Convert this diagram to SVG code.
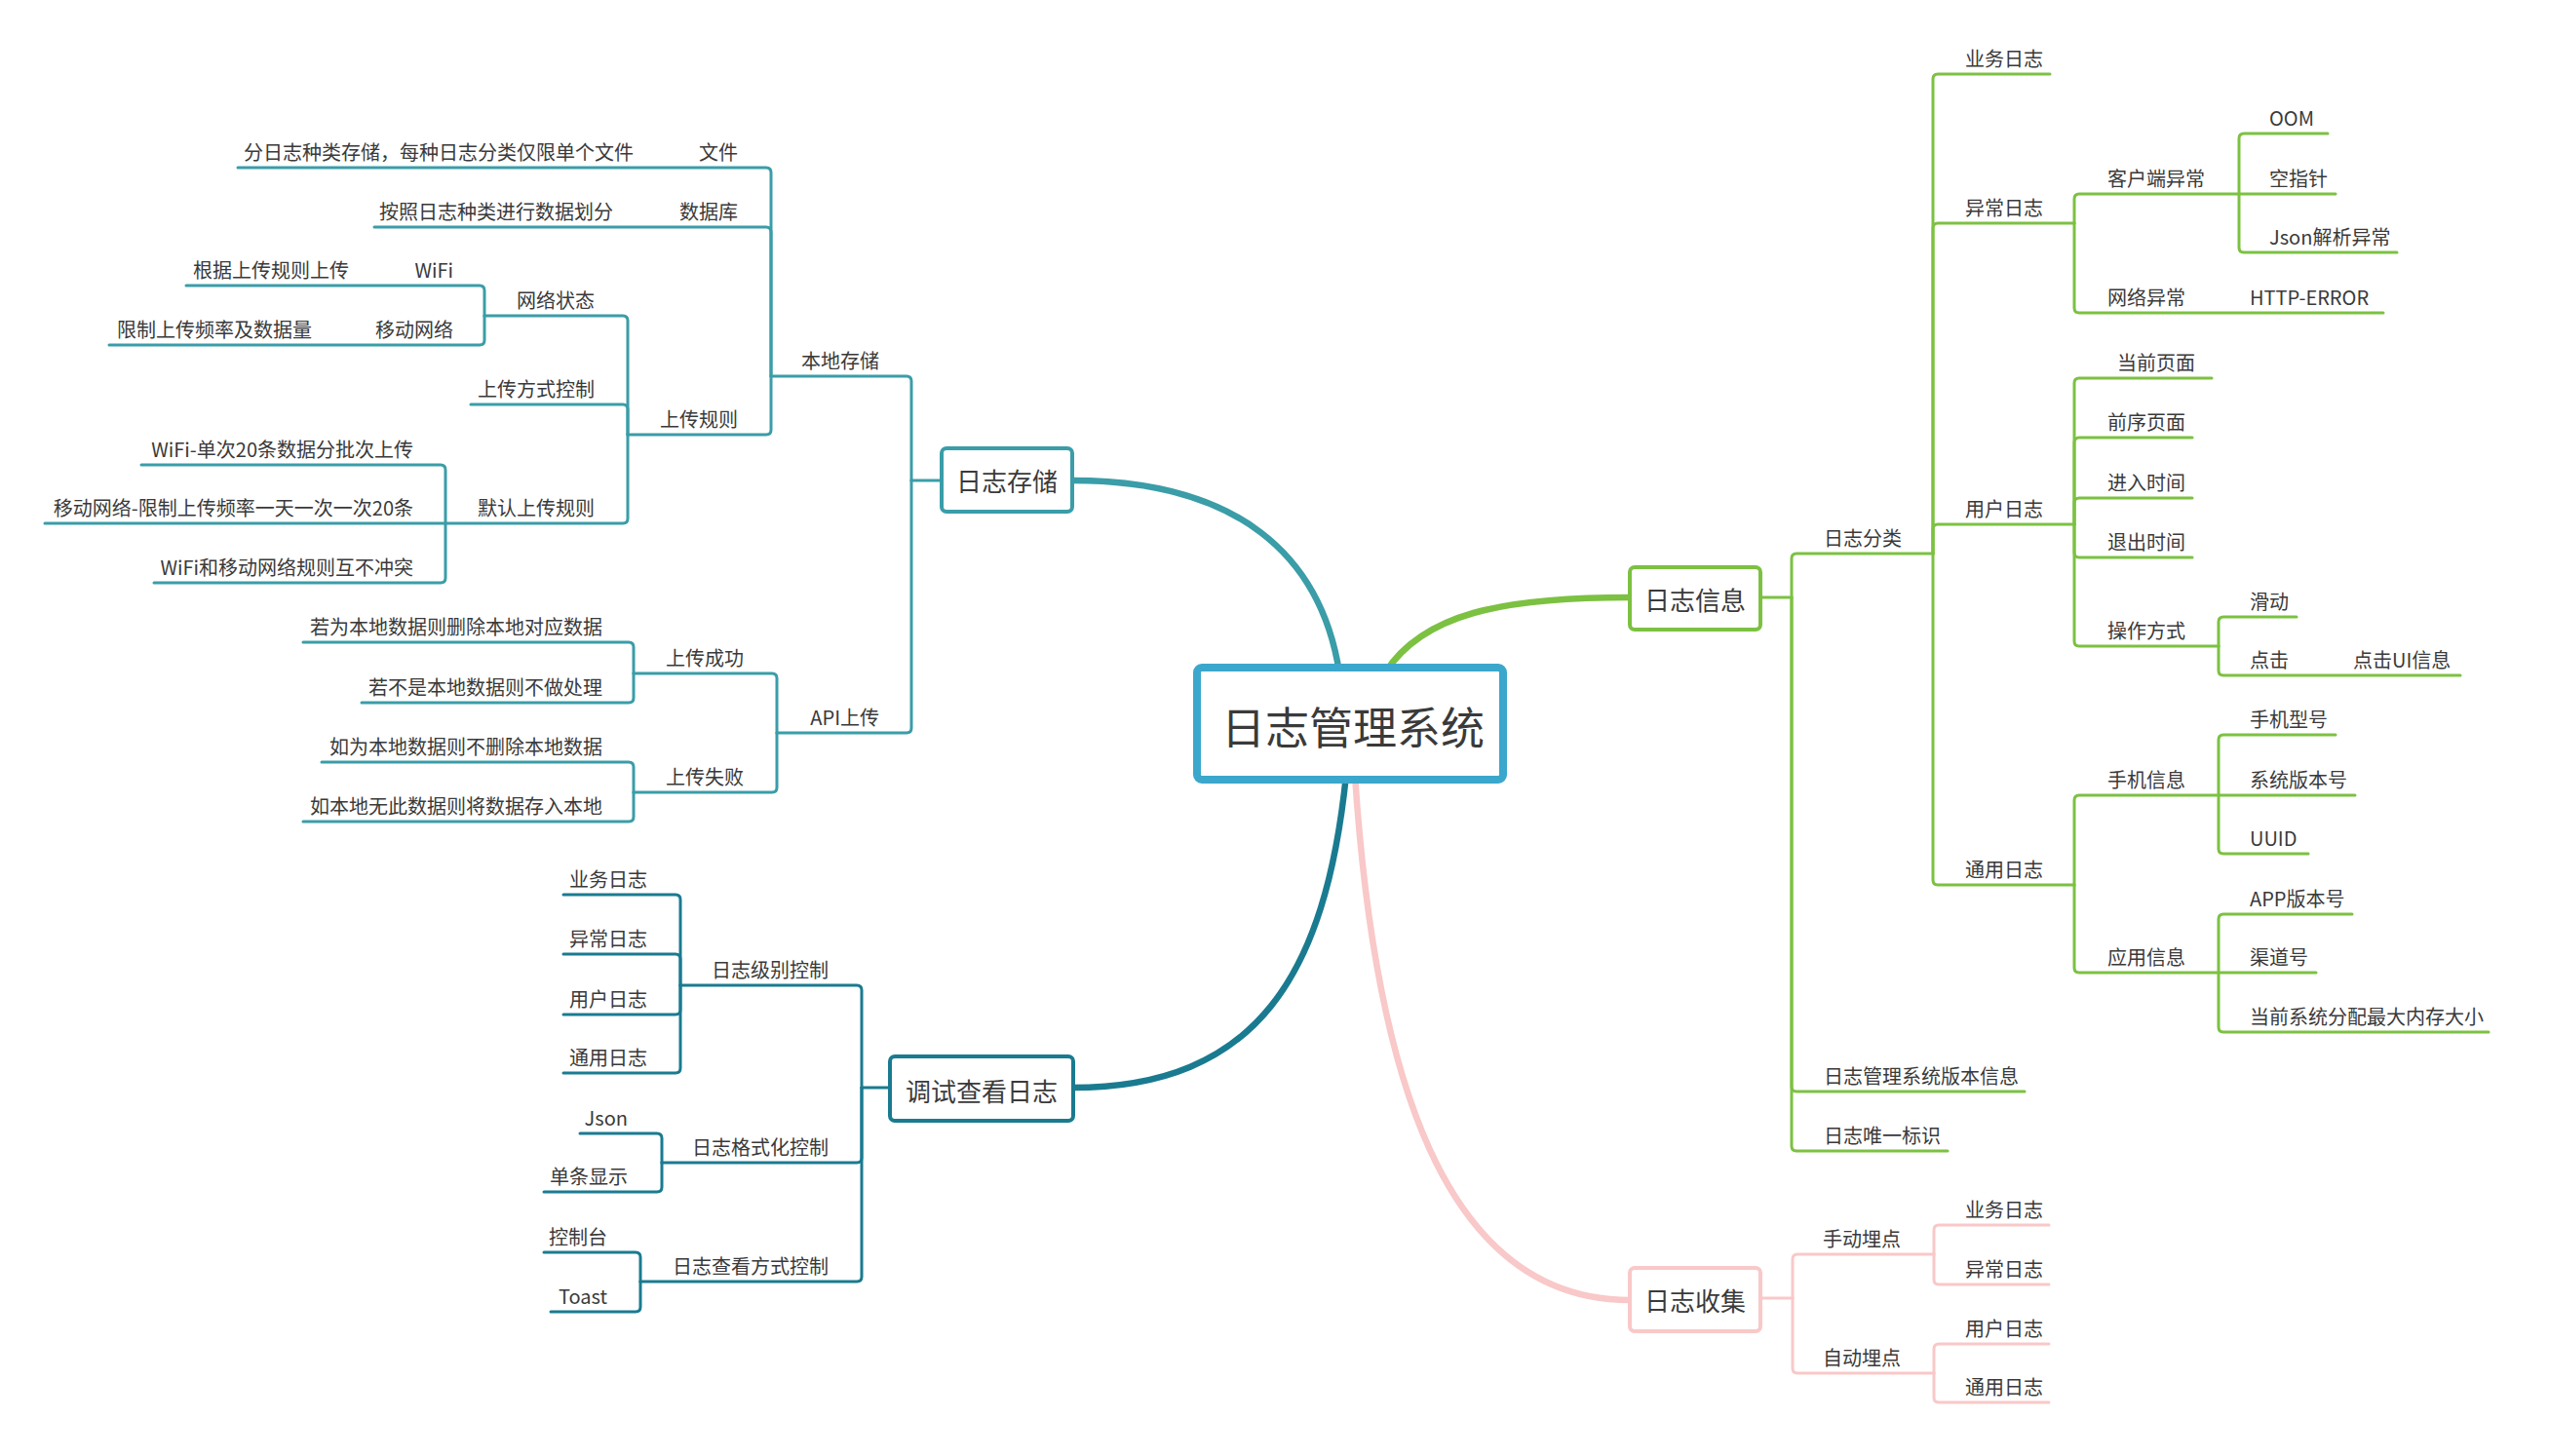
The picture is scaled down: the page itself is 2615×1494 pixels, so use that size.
<svg xmlns="http://www.w3.org/2000/svg" width="2615" height="1494" viewBox="0 0 2615 1494">
<style>
text{font-family:"Noto Sans CJK SC","Liberation Sans",sans-serif;fill:#3a3a3a}
.s{font-size:20px}
.m{font-size:26px;text-anchor:middle}
.c{font-size:45px;text-anchor:middle}
.e{text-anchor:end}
.ln path{fill:none;stroke-width:3;stroke-linecap:round;stroke-linejoin:round}
.teal path{stroke:#3a9da8}
.dteal path{stroke:#1a7b90}
.green path{stroke:#7cc142}
.pink path{stroke:#f9c8c8}
.mc path{fill:none;stroke-width:6.5}
.box{fill:#fff;stroke-width:4}
</style>
<rect width="2615" height="1494" fill="#fff"/>

<g id="connectors">
  <g id="main-curves" class="mc">
    <path d="M1374,690 C1355,570 1270,493 1100,493" stroke="#3a9da8"/>
    <path d="M1421,690 C1460,630 1540,613 1672,613" stroke="#7cc142"/>
    <path d="M1390,795 C1410,1100 1480,1334 1672,1334" stroke="#f9c8c8"/>
    <path d="M1381,795 C1360,1000 1290,1116 1100,1116" stroke="#1a7b90"/>
  </g>
  <g class="ln teal">
    <path d="M964,493 H935"/>
    <path d="M935,493 V391 Q935,386 930,386 H791"/>
    <path d="M935,493 V747 Q935,752 930,752 H797"/>
    <path d="M791,386 V177 Q791,172 786,172 H244"/>
    <path d="M791,386 V238 Q791,233 786,233 H384"/>
    <path d="M791,386 V441 Q791,446 786,446 H644"/>
    <path d="M644,446 V329 Q644,324 639,324 H497"/>
    <path d="M644,446 V420 Q644,415 639,415 H483"/>
    <path d="M644,446 V532 Q644,537 639,537 H457"/>
    <path d="M497,324 V298 Q497,293 492,293 H191"/>
    <path d="M497,324 V349 Q497,354 492,354 H112"/>
    <path d="M457,537 V482 Q457,477 452,477 H145"/>
    <path d="M457,537 H46"/>
    <path d="M457,537 V593 Q457,598 452,598 H158"/>
    <path d="M797,752 V696 Q797,691 792,691 H650"/>
    <path d="M797,752 V808 Q797,813 792,813 H650"/>
    <path d="M650,691 V664 Q650,659 645,659 H311"/>
    <path d="M650,691 V716 Q650,721 645,721 H371"/>
    <path d="M650,813 V787 Q650,782 645,782 H330"/>
    <path d="M650,813 V838 Q650,843 645,843 H311"/>
  </g>
  <g class="ln dteal">
    <path d="M911,1116 H884"/>
    <path d="M884,1116 V1016 Q884,1011 879,1011 H698"/>
    <path d="M884,1116 V1188 Q884,1193 879,1193 H679"/>
    <path d="M884,1116 V1310 Q884,1315 879,1315 H657"/>
    <path d="M698,1011 V923 Q698,918 693,918 H578"/>
    <path d="M698,1011 V984 Q698,979 693,979 H578"/>
    <path d="M698,1011 V1036 Q698,1041 693,1041 H578"/>
    <path d="M698,1011 V1096 Q698,1101 693,1101 H578"/>
    <path d="M679,1193 V1168 Q679,1163 674,1163 H595"/>
    <path d="M679,1193 V1218 Q679,1223 674,1223 H558"/>
    <path d="M657,1315 V1290 Q657,1285 652,1285 H558"/>
    <path d="M657,1315 V1341 Q657,1346 652,1346 H565"/>
  </g>
  <g class="ln green">
    <path d="M1808,613 H1838"/>
    <path d="M1838,613 V573 Q1838,568 1843,568 H1983"/>
    <path d="M1838,613 V1115 Q1838,1120 1843,1120 H2077"/>
    <path d="M1838,613 V1176 Q1838,1181 1843,1181 H1998"/>
    <path d="M1983,568 V81 Q1983,76 1988,76 H2103"/>
    <path d="M1983,568 V234 Q1983,229 1988,229 H2128"/>
    <path d="M1983,568 V543 Q1983,538 1988,538 H2128"/>
    <path d="M1983,568 V903 Q1983,908 1988,908 H2128"/>
    <path d="M2128,229 V204 Q2128,199 2133,199 H2297"/>
    <path d="M2128,229 V316 Q2128,321 2133,321 H2445"/>
    <path d="M2297,199 V142 Q2297,137 2302,137 H2388"/>
    <path d="M2297,199 H2396"/>
    <path d="M2297,199 V254 Q2297,259 2302,259 H2459"/>
    <path d="M2128,538 V393 Q2128,388 2133,388 H2269"/>
    <path d="M2128,538 V454 Q2128,449 2133,449 H2249"/>
    <path d="M2128,538 V516 Q2128,511 2133,511 H2249"/>
    <path d="M2128,538 V567 Q2128,572 2133,572 H2249"/>
    <path d="M2128,538 V658 Q2128,663 2133,663 H2276"/>
    <path d="M2276,663 V638 Q2276,633 2281,633 H2356"/>
    <path d="M2276,663 V688 Q2276,693 2281,693 H2524"/>
    <path d="M2128,908 V821 Q2128,816 2133,816 H2276"/>
    <path d="M2128,908 V993 Q2128,998 2133,998 H2276"/>
    <path d="M2276,816 V759 Q2276,754 2281,754 H2396"/>
    <path d="M2276,816 H2416"/>
    <path d="M2276,816 V871 Q2276,876 2281,876 H2368"/>
    <path d="M2276,998 V943 Q2276,938 2281,938 H2413"/>
    <path d="M2276,998 H2376"/>
    <path d="M2276,998 V1054 Q2276,1059 2281,1059 H2553"/>
  </g>
  <g class="ln pink">
    <path d="M1808,1332 H1839"/>
    <path d="M1839,1332 V1292 Q1839,1287 1844,1287 H1984"/>
    <path d="M1839,1332 V1404 Q1839,1409 1844,1409 H1984"/>
    <path d="M1984,1287 V1262 Q1984,1257 1989,1257 H2102"/>
    <path d="M1984,1287 V1313 Q1984,1318 1989,1318 H2102"/>
    <path d="M1984,1409 V1384 Q1984,1379 1989,1379 H2102"/>
    <path d="M1984,1409 V1434 Q1984,1439 1989,1439 H2102"/>
  </g>
</g>

<g id="root">
  <rect x="1228" y="685" width="314" height="115" rx="5" fill="#fff" stroke="#3ba7cc" stroke-width="8"/>
  <text class="c" x="1388" y="764">日志管理系统</text>
</g>

<g id="n-storage">
  <rect class="box" x="966" y="460" width="134" height="65" rx="5" stroke="#3a9da8"/>
  <text class="m" x="1033" y="504">日志存储</text>
</g>
<g id="n-storage-children">
  <g id="n-local"><text class="s e" x="902" y="378">本地存储</text></g>
  <g id="n-api"><text class="s e" x="902" y="744">API上传</text></g>
  <g id="n-file"><text class="s e" x="757" y="164">文件</text><text class="s e" x="650" y="164">分日志种类存储，每种日志分类仅限单个文件</text></g>
  <g id="n-db"><text class="s e" x="757" y="225">数据库</text><text class="s e" x="629" y="225">按照日志种类进行数据划分</text></g>
  <g id="n-rule"><text class="s e" x="757" y="438">上传规则</text></g>
  <g id="n-net"><text class="s e" x="610" y="316">网络状态</text></g>
  <g id="n-mode"><text class="s e" x="610" y="407">上传方式控制</text></g>
  <g id="n-default"><text class="s e" x="610" y="529">默认上传规则</text></g>
  <g id="n-wifi"><text class="s e" x="465" y="285">WiFi</text><text class="s e" x="358" y="285">根据上传规则上传</text></g>
  <g id="n-mobile"><text class="s e" x="465" y="346">移动网络</text><text class="s e" x="320" y="346">限制上传频率及数据量</text></g>
  <g id="n-d1"><text class="s e" x="424" y="469">WiFi-单次20条数据分批次上传</text></g>
  <g id="n-d2"><text class="s e" x="424" y="529">移动网络-限制上传频率一天一次一次20条</text></g>
  <g id="n-d3"><text class="s e" x="424" y="590">WiFi和移动网络规则互不冲突</text></g>
  <g id="n-ok"><text class="s e" x="763" y="683">上传成功</text></g>
  <g id="n-fail"><text class="s e" x="763" y="805">上传失败</text></g>
  <g id="n-ok1"><text class="s e" x="618" y="651">若为本地数据则删除本地对应数据</text></g>
  <g id="n-ok2"><text class="s e" x="618" y="713">若不是本地数据则不做处理</text></g>
  <g id="n-f1"><text class="s e" x="618" y="774">如为本地数据则不删除本地数据</text></g>
  <g id="n-f2"><text class="s e" x="618" y="835">如本地无此数据则将数据存入本地</text></g>
</g>

<g id="n-debug">
  <rect class="box" x="913" y="1084" width="188" height="66" rx="5" stroke="#1a7b90"/>
  <text class="m" x="1007" y="1130">调试查看日志</text>
</g>
<g id="n-debug-children">
  <g id="n-level"><text class="s e" x="850" y="1003">日志级别控制</text></g>
  <g id="n-format"><text class="s e" x="850" y="1185">日志格式化控制</text></g>
  <g id="n-view"><text class="s e" x="850" y="1307">日志查看方式控制</text></g>
  <g id="n-l1"><text class="s e" x="664" y="910">业务日志</text></g>
  <g id="n-l2"><text class="s e" x="664" y="971">异常日志</text></g>
  <g id="n-l3"><text class="s e" x="664" y="1033">用户日志</text></g>
  <g id="n-l4"><text class="s e" x="664" y="1093">通用日志</text></g>
  <g id="n-json"><text class="s e" x="644" y="1155">Json</text></g>
  <g id="n-single"><text class="s e" x="644" y="1215">单条显示</text></g>
  <g id="n-console"><text class="s e" x="623" y="1277">控制台</text></g>
  <g id="n-toast"><text class="s e" x="623" y="1338">Toast</text></g>
</g>

<g id="n-info">
  <rect class="box" x="1672" y="582" width="134" height="64" rx="5" stroke="#7cc142"/>
  <text class="m" x="1739" y="626">日志信息</text>
</g>
<g id="n-info-children">
  <g id="n-cat"><text class="s" x="1871" y="560">日志分类</text></g>
  <g id="n-ver"><text class="s" x="1871" y="1112">日志管理系统版本信息</text></g>
  <g id="n-uid"><text class="s" x="1871" y="1173">日志唯一标识</text></g>
  <g id="n-biz"><text class="s" x="2016" y="68">业务日志</text></g>
  <g id="n-exc"><text class="s" x="2016" y="221">异常日志</text></g>
  <g id="n-user"><text class="s" x="2016" y="530">用户日志</text></g>
  <g id="n-common"><text class="s" x="2016" y="900">通用日志</text></g>
  <g id="n-client"><text class="s" x="2162" y="191">客户端异常</text></g>
  <g id="n-netexc"><text class="s" x="2162" y="313">网络异常</text><text class="s" x="2308" y="313">HTTP-ERROR</text></g>
  <g id="n-oom"><text class="s" x="2328" y="129">OOM</text></g>
  <g id="n-npe"><text class="s" x="2328" y="191">空指针</text></g>
  <g id="n-jsonerr"><text class="s" x="2328" y="251">Json解析异常</text></g>
  <g id="n-cur"><text class="s" x="2172" y="380">当前页面</text></g>
  <g id="n-prev"><text class="s" x="2162" y="441">前序页面</text></g>
  <g id="n-in"><text class="s" x="2162" y="503">进入时间</text></g>
  <g id="n-out"><text class="s" x="2162" y="564">退出时间</text></g>
  <g id="n-op"><text class="s" x="2162" y="655">操作方式</text></g>
  <g id="n-slide"><text class="s" x="2308" y="625">滑动</text></g>
  <g id="n-click"><text class="s" x="2308" y="685">点击</text><text class="s" x="2414" y="685">点击UI信息</text></g>
  <g id="n-phone"><text class="s" x="2162" y="808">手机信息</text></g>
  <g id="n-app"><text class="s" x="2162" y="990">应用信息</text></g>
  <g id="n-model"><text class="s" x="2308" y="746">手机型号</text></g>
  <g id="n-sysver"><text class="s" x="2308" y="808">系统版本号</text></g>
  <g id="n-uuid"><text class="s" x="2308" y="868">UUID</text></g>
  <g id="n-appver"><text class="s" x="2308" y="930">APP版本号</text></g>
  <g id="n-channel"><text class="s" x="2308" y="990">渠道号</text></g>
  <g id="n-mem"><text class="s" x="2308" y="1051">当前系统分配最大内存大小</text></g>
</g>

<g id="n-collect">
  <rect class="box" x="1672" y="1301" width="134" height="65" rx="5" stroke="#f9c8c8"/>
  <text class="m" x="1739" y="1345">日志收集</text>
</g>
<g id="n-collect-children">
  <g id="n-manual"><text class="s" x="1870" y="1279">手动埋点</text></g>
  <g id="n-auto"><text class="s" x="1870" y="1401">自动埋点</text></g>
  <g id="n-c1"><text class="s" x="2016" y="1249">业务日志</text></g>
  <g id="n-c2"><text class="s" x="2016" y="1310">异常日志</text></g>
  <g id="n-c3"><text class="s" x="2016" y="1371">用户日志</text></g>
  <g id="n-c4"><text class="s" x="2016" y="1431">通用日志</text></g>
</g>
</svg>
